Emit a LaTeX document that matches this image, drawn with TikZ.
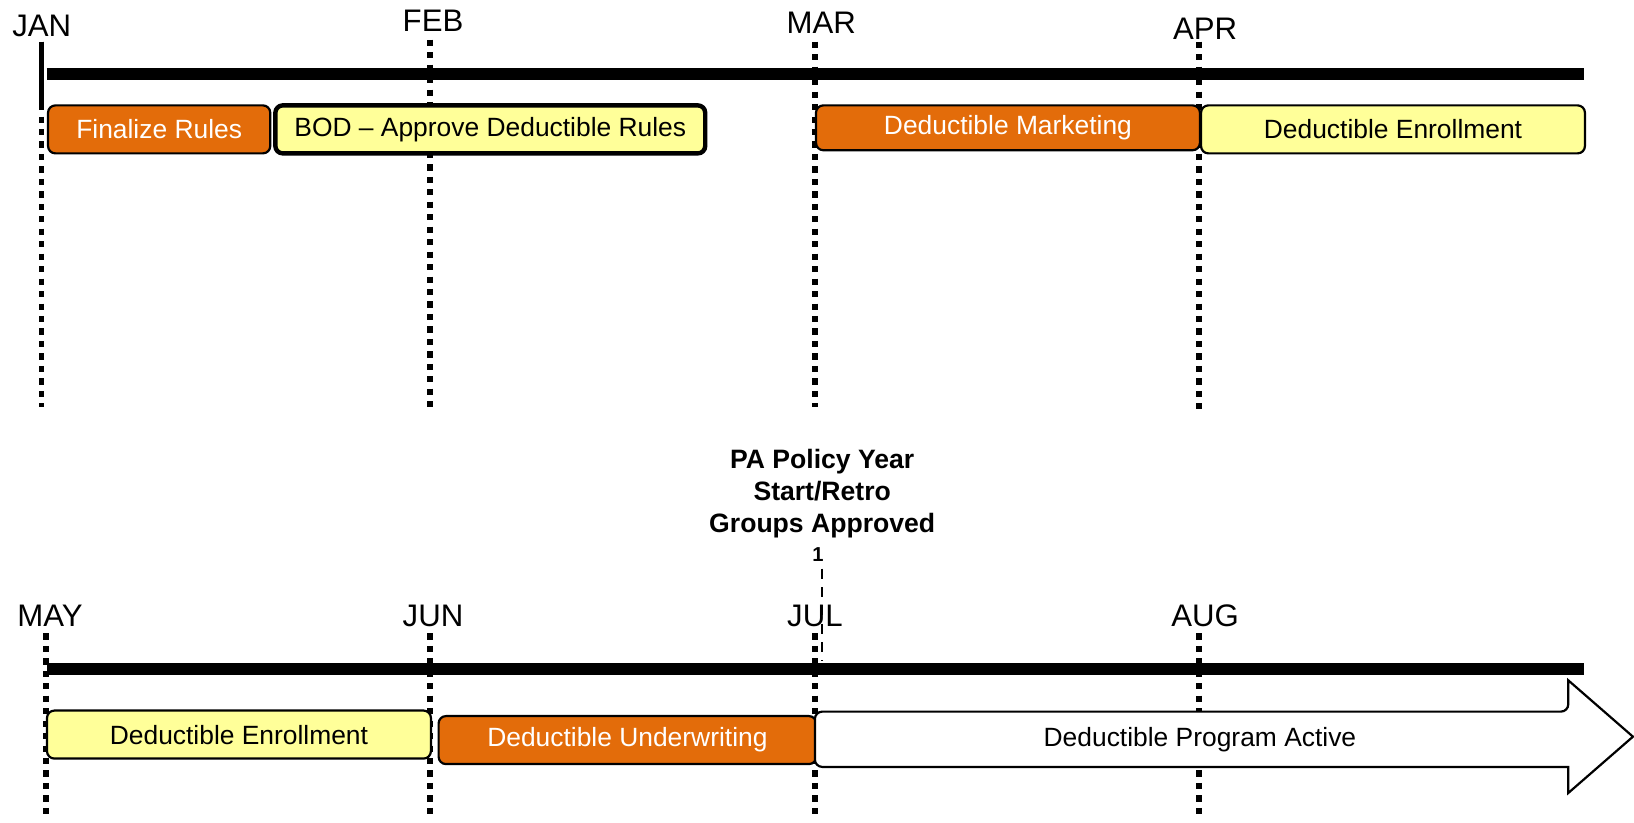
\documentclass[tikz,border=0pt]{standalone}
\usepackage{fontspec}
\setmainfont{Liberation Sans}
\usetikzlibrary{positioning, calc}

\definecolor{taskorange}{RGB}{227,108,10}
\definecolor{taskyellow}{RGB}{255,255,153}

\tikzset{
    month/.style={font=\fontsize{17}{20}\selectfont, inner sep=0pt},
    tick/.style={line width=3pt, dash pattern=on 3.4pt off 3.4pt},
    axis/.style={line width=6.2pt},
    task/.style={draw, rounded corners=4pt, line width=1.2pt, inner sep=0pt,
        font=\fontsize{14.4}{17}\selectfont, minimum height=0.92cm},
    orangetask/.style={task, fill=taskorange, text=white},
    yellowtask/.style={task, fill=taskyellow},
    flagline/.style={line width=1.1pt, dash pattern=on 5.5pt off 4.5pt},
}

\begin{document}
\begin{tikzpicture}[x=0.02cm, y=-0.02cm]
    \useasboundingbox (0,0) rectangle (1566,788);

    % top row: Jan - Apr
    \node[month] (jan) at (40,25) {JAN};
    \node[month] (feb) at (415,20) {FEB};
    \node[month] (mar) at (787,22) {MAR};
    \node[month] (apr) at (1155,28) {APR};

    \draw[tick] (40,40) -- (40,390);
    \draw[tick] (412,38) -- (412,390);
    \draw[tick] (781,40) -- (781,390);
    \draw[tick] (1149,40) -- (1149,393);
    \draw[line width=2.9pt] (40,40) -- (40,100);
    \draw[axis] (45,71) -- (1518,71);

    \node[orangetask, minimum width=4.26cm, anchor=west] (fin) at (45,124) {Finalize Rules};
    \node[yellowtask, line width=2.4pt, minimum width=8.24cm, right=1pt of fin] (bod) {BOD – Approve Deductible Rules};
    \node[orangetask, minimum width=7.36cm, minimum height=0.86cm, anchor=west] (mkt) at (781,122.5) {Deductible Marketing};
    \node[yellowtask, minimum width=7.36cm, anchor=west] (enr) at (1150,124) {Deductible Enrollment};

    % bottom row: May - Aug
    \node[month] (may) at (48,590) {MAY};
    \node[month] (jun) at (415,590) {JUN};
    \node[month] (jul) at (781,590) {JUL};
    \node[month] (aug) at (1155,590) {AUG};

    \node[font=\fontsize{14.5}{17.6}\selectfont\bfseries, align=center, inner sep=0pt] (start) at (788,473)
        {PA Policy Year\\Start/Retro\\Groups Approved};
    \node[font=\fontsize{11}{13}\selectfont\bfseries, inner sep=0pt] (one) at (784,531) {1};
    \coordinate (retro) at (788,633);
    \draw[flagline] (788,545) -- (retro);

    \draw[tick] (44,607) -- (44,785);
    \draw[tick] (412,607) -- (412,785);
    \draw[tick] (781,607) -- (781,785);
    \draw[tick] (1149,607) -- (1149,785);
    \draw[axis] (45,641) -- (1518,641);

    \node[yellowtask, minimum width=7.36cm, anchor=west] (enr2) at (44,704) {Deductible Enrollment};
    \node[orangetask, minimum width=7.24cm, right=3pt of enr2, yshift=-3pt] (uw) {Deductible Underwriting};
    \draw[line width=1.2pt, fill=white]
        (1503,682) -- (1503,652) -- (1565,706) -- (1503,760) -- (1503,735)
        [rounded corners=4pt] -- (781,735) -- (781,682) -- cycle;
    \node[font=\fontsize{14.4}{17}\selectfont] (active) at (1150,709) {Deductible Program Active};
\end{tikzpicture}
\end{document}
